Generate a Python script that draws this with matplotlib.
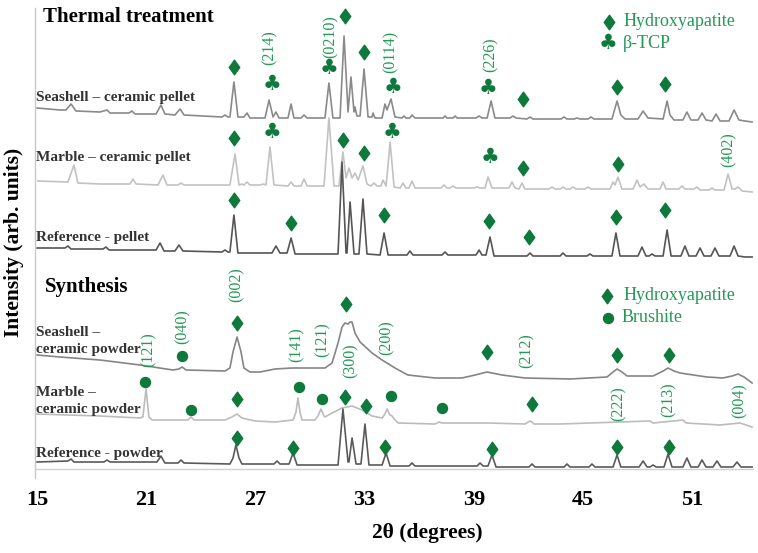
import matplotlib
matplotlib.use("Agg")
import matplotlib.pyplot as plt
from matplotlib.path import Path
import numpy as np

# ---------------- data (2theta in degrees, intensity in arb. units) ----------------
sp_tt = [15.00,16.26,16.59,16.87,17.14,18.46,18.85,19.01,20.05,20.22,20.38,21.54,21.81,22.03,22.58,22.86,23.08,
         25.16,25.33,25.49,25.60,25.82,26.04,26.37,26.54,26.70,27.53,27.75,27.97,28.13,28.30,28.79,28.96,29.12,
         29.51,29.67,29.84,30.82,31.04,31.26,31.65,31.87,32.09,32.25,32.42,32.47,32.58,32.75,32.97,33.19,33.41,
         33.46,33.57,33.96,34.12,34.23,34.45,34.67,35.05,35.16,35.27,35.49,35.60,35.77,37.31,37.42,37.53,37.86,
         37.97,38.08,39.12,39.29,39.45,39.73,39.95,40.16,40.99,41.15,41.32,41.92,42.09,42.25,43.79,43.96,44.12,
         44.51,44.67,44.84,45.27,45.44,45.60,46.59,46.87,47.08,47.31,48.02,48.30,48.57,49.40,49.62,49.78,50.00,
         50.49,50.71,50.93,51.32,51.54,51.76,52.09,52.31,52.53,53.02,53.30,53.57,53.90,54.29]
sp_int = [14,12,12,18,11,10,12,9,9,11,8,8,17,8,7,13,7,
          5,7,5,5,40,5,5,9,4,4,22,5,10,4,4,18,4,
          4,7,4,4,39,4,4,86,10,45,10,15,6,6,53,5,5,
          9,4,4,18,12,23,5,4,6,4,4,7,4,4,6,4,4,
          6,4,4,6,4,4,21,4,4,6,4,3,5,3,3,5,3,
          3,4,3,3,5,3,3,21,7,3,3,11,4,3,21,7,2,
          2,10,2,2,9,2,1,8,1,1,12,2,1,0]

mp_tt = [15.05,16.70,17.03,17.25,18.46,20.11,20.27,20.44,21.65,21.92,22.14,22.75,22.91,23.08,25.60,25.88,26.10,
         26.26,26.37,26.54,26.70,27.25,27.42,27.58,27.80,28.02,28.79,28.96,29.12,29.51,29.67,29.84,30.77,31.04,
         31.32,31.59,31.81,31.98,32.14,32.31,32.47,32.64,32.91,33.13,33.35,33.51,33.68,33.90,34.01,34.18,34.40,
         34.62,34.95,35.11,35.27,35.44,35.60,35.77,37.20,37.36,37.53,37.69,37.86,38.02,39.01,39.18,39.34,39.62,
         39.78,40.00,40.93,41.10,41.26,41.48,41.65,41.81,43.13,43.30,43.46,43.74,43.90,44.07,44.29,44.45,44.62,
         45.11,45.27,45.44,46.48,46.65,46.76,46.92,47.14,47.75,47.97,48.13,48.35,48.57,49.23,49.40,49.56,50.27,
         50.44,50.60,51.10,51.26,51.43,51.92,52.09,52.25,52.75,52.97,53.19,53.35,53.52,53.74,54.29]
mp_int = [11,10,27,9,8,8,13,8,7,17,7,7,9,7,7,38,7,
          8,7,10,7,7,8,7,45,7,6,10,6,6,13,6,6,74,
          6,6,40,14,24,14,19,12,26,8,6,9,6,6,12,6,50,
          5,4,9,4,4,11,4,4,7,4,4,6,4,4,5,4,4,
          15,4,4,10,4,3,9,3,3,5,3,3,5,3,3,5,3,
          3,5,3,3,10,7,15,3,3,12,5,8,3,3,10,3,3,
          6,3,3,5,2,2,4,2,2,18,3,3,5,1,0]

rp_tt = [15.00,16.54,16.70,16.87,18.63,18.79,18.96,21.54,21.76,21.98,22.58,22.80,23.02,25.16,25.33,25.49,25.60,
         25.82,26.04,27.91,28.13,28.35,28.74,28.96,29.18,31.54,31.76,31.98,32.03,32.20,32.42,32.69,32.91,33.13,
         33.85,34.07,34.29,35.33,35.49,35.66,37.25,37.42,37.58,39.12,39.29,39.45,39.67,39.89,40.11,41.92,42.09,
         42.25,43.74,43.90,44.07,45.22,45.38,45.55,46.59,46.81,47.03,48.02,48.24,48.46,48.63,48.79,48.96,49.40,
         49.62,49.84,50.38,50.60,50.82,51.21,51.43,51.65,52.03,52.25,52.47,53.08,53.30,53.52,53.90,54.29]
rp_int = [9,9,11,8,8,10,7,7,14,6,6,12,6,5,7,5,5,
          42,4,4,11,4,4,19,3,3,95,4,4,55,3,3,58,3,
          2,24,2,2,6,2,2,5,2,2,7,2,2,20,1,1,4,
          1,1,4,1,1,3,1,1,24,1,1,10,1,1,3,1,1,
          27,1,1,11,1,1,9,1,1,9,1,1,11,1,0,0]

sw_tt = [15.00,16.26,18.46,20.66,22.47,22.80,22.97,23.19,25.33,25.60,25.77,25.99,26.21,26.37,26.70,27.25,28.08,
         29.01,30.82,31.21,31.54,31.76,31.92,32.09,32.20,32.31,32.47,32.75,33.41,33.96,34.23,34.67,35.38,36.87,
         38.35,39.07,39.73,40.55,41.81,44.29,46.32,46.65,46.87,47.14,47.42,48.85,49.40,49.67,50.00,50.33,51.81,
         52.69,53.19,53.52,53.85,54.29]
sw_int = [28,26,23,18,13,14,16,13,12,15,31,46,31,15,11,11,14,
          15,15,20,40,56,60,59,61,61,50,41,30,23,20,15,8,5,
          5,8,11,8,5,4,6,11,14,11,7,7,12,15,12,10,6,
          5,7,9,6,0]

mw_tt = [15.00,18.46,20.66,20.82,20.99,21.15,21.32,23.30,23.46,23.63,25.33,25.71,25.99,26.26,26.98,28.08,29.07,
         29.23,29.34,29.45,29.56,30.27,30.44,30.60,30.77,30.82,31.21,31.76,32.31,32.86,33.41,33.96,34.12,34.23,
         34.34,34.40,34.51,34.67,34.84,36.87,37.09,37.25,39.78,41.81,42.09,42.20,42.31,43.74,48.68,48.85,50.49,
         50.66,52.53,53.63,54.29]
mw_int = [13,11,9,10,38,10,7,7,10,7,7,10,13,9,6,5,7,
          15,29,15,7,7,11,18,11,10,14,19,21,17,11,9,13,18,
          14,12,11,7,4,3,5,4,4,3,6,5,3,3,6,4,7,
          4,2,4,0]

rw_tt = [15.00,16.70,16.87,17.03,18.68,18.85,19.01,21.59,21.81,22.03,22.75,22.91,23.08,25.60,25.77,25.93,26.10,
         26.26,28.02,28.19,28.35,28.85,29.07,29.29,31.54,31.81,32.09,32.14,32.31,32.53,32.80,33.02,33.24,33.96,
         34.18,34.40,35.44,35.60,35.77,39.18,39.34,39.51,39.78,40.00,40.22,42.03,42.20,42.36,43.96,44.12,44.29,
         45.33,45.49,45.66,46.65,46.87,47.08,48.08,48.30,48.52,48.68,48.85,49.01,49.45,49.67,49.89,50.49,50.71,
         50.93,51.32,51.54,51.76,52.14,52.36,52.58,53.24,53.46,53.68,54.29]
rw_int = [5,6,8,5,5,7,5,5,11,4,4,7,4,3,9,22,9,
          3,3,6,3,3,14,2,2,58,5,5,29,3,3,43,2,2,
          14,1,1,4,1,1,4,1,1,12,0,0,3,0,0,3,0,
          0,3,0,0,12,0,0,6,0,0,2,0,0,13,0,0,9,
          0,0,7,0,0,6,0,0,5,0,0]

series_names = ["Seashell – ceramic pellet", "Marble – ceramic pellet", "Reference - pellet",
                "Seashell –\nceramic powder", "Marble –\nceramic powder", "Reference - powder"]
series_tt = [sp_tt, mp_tt, rp_tt, sw_tt, mw_tt, rw_tt]
series_int = [sp_int, mp_int, rp_int, sw_int, mw_int, rw_int]
series_offset = [347, 277, 212, 86, 42, 2]
series_color = ["#8a8a8a", "#c2c2c2", "#555555", "#858585", "#bcbcbc", "#5a5a5a"]

# phase markers (2theta, height)
ha_marks = [(25.82, 402), (31.92, 453), (32.97, 417), (41.70, 370), (46.87, 382), (49.51, 385),
            (25.82, 331), (31.81, 329), (32.97, 316), (41.70, 301), (46.92, 305),
            (25.82, 269), (28.96, 246), (34.07, 254), (39.84, 248), (42.03, 232), (46.81, 252), (49.51, 259),
            (25.99, 146), (31.98, 165), (39.73, 117), (46.87, 114), (49.73, 114),
            (25.99, 70), (31.92, 72), (33.08, 63), (42.20, 65),
            (25.99, 31), (29.07, 21), (34.12, 22), (40.00, 20), (46.87, 22), (49.73, 22)]
tcp_marks = [(27.91, 385), (31.04, 401), (34.56, 382), (39.78, 381),
             (27.91, 337), (34.51, 337), (39.89, 312)]
brushite_marks = [(22.97, 113), (20.93, 87), (23.46, 59), (29.40, 82), (30.66, 70), (34.45, 73), (37.25, 61)]

hkl_labels = [("(214)", 27.80, 421), ("(0210)", 31.15, 432), ("(0114)", 34.45, 417), ("(226)", 39.95, 414),
              ("(402)", 53.02, 319),
              ("(002)", 25.99, 184), ("(040)", 23.02, 142), ("(121)", 21.12, 119), ("(141)", 29.29, 124),
              ("(121)", 30.71, 129), ("(300)", 32.25, 108), ("(200)", 34.23, 131), ("(212)", 41.92, 118),
              ("(222)", 46.98, 65), ("(213)", 49.73, 69), ("(004)", 53.63, 68)]

xticks = [15, 21, 27, 33, 39, 45, 51]

# ---------------- drawing ----------------
SERIF = ["Liberation Serif", "DejaVu Serif"]
MARK = "#0d7a3c"
TXTG = "#229a55"

fig = plt.figure(figsize=(7.58, 5.53), dpi=100)
ax = fig.add_axes([35/758, 84/553, 718/758, 461/553])
ax.set_xlim(14.89, 54.34)
ax.set_ylim(0, 461)

for tt, it, off, col in zip(series_tt, series_int, series_offset, series_color):
    ax.plot(tt, np.asarray(it) + off, color=col, lw=1.2, zorder=2)

diamond = Path([(0, 1), (0.72, 0), (0, -1), (-0.72, 0), (0, 1)],
               [Path.MOVETO, Path.LINETO, Path.LINETO, Path.LINETO, Path.CLOSEPOLY])
hx, hy = zip(*ha_marks)
ax.plot(hx, hy, ls="none", marker=diamond, ms=10.5, color=MARK, mec=MARK, zorder=4)
bx, by = zip(*brushite_marks)
ax.plot(bx, by, ls="none", marker="o", ms=7.2, color=MARK, mec=MARK, zorder=4)
for x, y in tcp_marks:
    ax.text(x, y, "♣", ha="center", va="center", fontsize=15, color=MARK,
            family=["DejaVu Sans"], zorder=4)

for lab, x, y in hkl_labels:
    ax.text(x, y, lab, rotation=90, ha="center", va="center", fontsize=11.5,
            color=TXTG, family=SERIF, zorder=3)

# series labels
label_pos = [(371,), (311,), (231,), (137, 120), (76, 59), (16,)]
for name, pos in zip(series_names, label_pos):
    for line, y in zip(name.split("\n"), pos):
        ax.text(14.95, y, line, ha="left", va="center", fontsize=11.0, fontweight="bold",
                color="#333333", family=SERIF, zorder=3)

ax.text(15.33, 452, "Thermal treatment", ha="left", va="center", fontsize=15,
        fontweight="bold", color="black", family=SERIF)
ax.text(15.44, 182, "Synthesis", ha="left", va="center", fontsize=15,
        fontweight="bold", color="black", family=SERIF)

# legends
ax.plot([46.43], [447], ls="none", marker=diamond, ms=10.5, color=MARK)
ax.text(47.20, 447, "Hydroxyapatite", ha="left", va="center", fontsize=13, color=TXTG, family=SERIF)
ax.text(46.37, 426, "♣", ha="center", va="center", fontsize=15, color=MARK, family=["DejaVu Sans"])
ax.text(47.20, 426, "β-TCP", ha="left", va="center", fontsize=13, color=TXTG, family=SERIF)
ax.plot([46.32], [173], ls="none", marker=diamond, ms=10.5, color=MARK)
ax.text(47.20, 173, "Hydroxyapatite", ha="left", va="center", fontsize=13, color=TXTG, family=SERIF)
ax.plot([46.37], [151], ls="none", marker="o", ms=7.2, color=MARK)
ax.text(47.09, 151, "Brushite", ha="left", va="center", fontsize=13, color=TXTG, family=SERIF)

# axes styling
for s in ["top", "right", "left"]:
    ax.spines[s].set_visible(False)
ax.plot([0, 0], [-9/461, 1], transform=ax.transAxes, clip_on=False, color="#c8c8c8", lw=1.0)
ax.spines["bottom"].set_color("#d0d0d0")
ax.spines["bottom"].set_linewidth(1.0)
ax.set_yticks([])
ax.set_xticks(xticks)
ax.set_xticklabels([str(t) for t in xticks], fontsize=16, fontweight="bold", family=SERIF)
ax.tick_params(axis="x", length=0, pad=15)

fig.text(427/758, 1 - 533/553, "2θ (degrees)", ha="center", va="center", fontsize=15.5,
         fontweight="bold", family=SERIF)
fig.text(14/758, 1 - 242/553, "Intensity (arb. units)", ha="center", va="center", rotation=90,
         fontsize=15.5, fontweight="bold", family=SERIF)

fig.savefig("out.png", dpi=100)
